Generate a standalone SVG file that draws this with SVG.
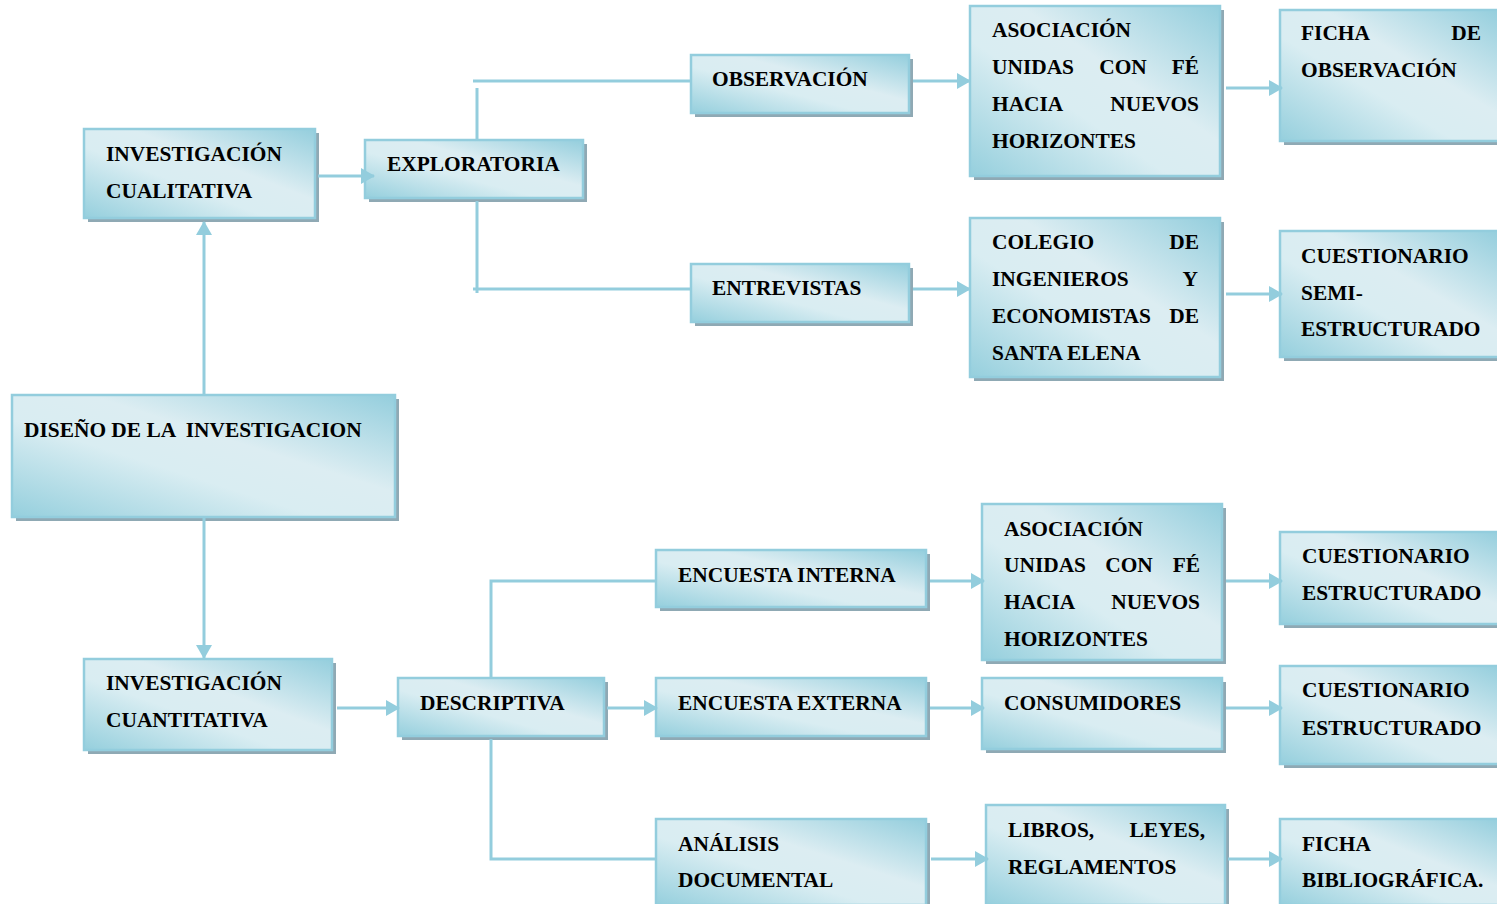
<svg xmlns="http://www.w3.org/2000/svg" width="1497" height="904" viewBox="0 0 1497 904">
<defs>
<linearGradient id="g" x1="0" y1="1" x2="1" y2="0">
<stop offset="0" stop-color="#95cfdd"/>
<stop offset="0.4" stop-color="#d9edf2"/>
<stop offset="0.6" stop-color="#dcedf2"/>
<stop offset="1" stop-color="#94cedd"/>
</linearGradient>
<marker id="ah" markerUnits="userSpaceOnUse" markerWidth="14" markerHeight="16" viewBox="0 0 14 16" refX="13" refY="8" orient="auto">
<path d="M0,0 L14,8 L0,16 z" fill="#93cddd"/>
</marker>
<style>
.sh{fill:#8fa9b4}
.bx{fill:url(#g);stroke:#93cddd;stroke-width:2.5}
.t{font-family:"Liberation Serif","Times New Roman",serif;font-weight:bold;font-size:21.4px;fill:#000}
.e{text-anchor:end}
.m{text-anchor:middle}
.c{stroke:#93cddd;stroke-width:3;fill:none}
.a{marker-end:url(#ah)}
</style>
</defs>
<rect width="1497" height="904" fill="#fff"/>

<g id="nodes">
<g id="diseno">
<rect class="sh" x="16" y="399" width="383" height="122"/>
<rect class="bx" x="12" y="395" width="383" height="122"/>
<text class="t" x="24" y="437" xml:space="preserve">DISEÑO DE LA  INVESTIGACION</text>
</g>
<g id="cualitativa">
<rect class="sh" x="88" y="133" width="231" height="89"/>
<rect class="bx" x="84" y="129" width="231" height="89"/>
<text class="t" x="106" y="161">INVESTIGACIÓN</text>
<text class="t" x="106" y="198">CUALITATIVA</text>
</g>
<g id="exploratoria">
<rect class="sh" x="369" y="144" width="218" height="58"/>
<rect class="bx" x="365" y="140" width="218" height="58"/>
<text class="t" x="387" y="171">EXPLORATORIA</text>
</g>
<g id="observacion">
<rect class="sh" x="695" y="59" width="218" height="58"/>
<rect class="bx" x="691" y="55" width="218" height="58"/>
<text class="t" x="712" y="86">OBSERVACIÓN</text>
</g>
<g id="entrevistas">
<rect class="sh" x="695" y="268" width="218" height="58"/>
<rect class="bx" x="691" y="264" width="218" height="58"/>
<text class="t" x="712" y="295">ENTREVISTAS</text>
</g>
<g id="asociacion1">
<rect class="sh" x="974" y="10" width="250" height="170"/>
<rect class="bx" x="970" y="6" width="250" height="170"/>
<text class="t" x="992" y="37">ASOCIACIÓN</text>
<text class="t" x="992" y="74">UNIDAS</text>
<text class="t m" x="1123" y="74">CON</text>
<text class="t e" x="1199" y="74">FÉ</text>
<text class="t" x="992" y="111">HACIA</text>
<text class="t e" x="1199" y="111">NUEVOS</text>
<text class="t" x="992" y="148">HORIZONTES</text>
</g>
<g id="fichaobs">
<rect class="sh" x="1284" y="14" width="220" height="131"/>
<rect class="bx" x="1280" y="10" width="220" height="131"/>
<text class="t" x="1301" y="40">FICHA</text>
<text class="t e" x="1481" y="40">DE</text>
<text class="t" x="1301" y="77">OBSERVACIÓN</text>
</g>
<g id="colegio">
<rect class="sh" x="974" y="222" width="250" height="159"/>
<rect class="bx" x="970" y="218" width="250" height="159"/>
<text class="t" x="992" y="249">COLEGIO</text>
<text class="t e" x="1199" y="249">DE</text>
<text class="t" x="992" y="286">INGENIEROS</text>
<text class="t e" x="1198" y="286">Y</text>
<text class="t" x="992" y="323">ECONOMISTAS</text>
<text class="t e" x="1199" y="323">DE</text>
<text class="t" x="992" y="360">SANTA ELENA</text>
</g>
<g id="cuestsemi">
<rect class="sh" x="1284" y="235" width="220" height="126"/>
<rect class="bx" x="1280" y="231" width="220" height="126"/>
<text class="t" x="1301" y="263">CUESTIONARIO</text>
<text class="t" x="1301" y="300">SEMI-</text>
<text class="t" x="1301" y="336">ESTRUCTURADO</text>
</g>
<g id="cuantitativa">
<rect class="sh" x="88" y="663" width="248" height="91"/>
<rect class="bx" x="84" y="659" width="248" height="91"/>
<text class="t" x="106" y="690">INVESTIGACIÓN</text>
<text class="t" x="106" y="727">CUANTITATIVA</text>
</g>
<g id="descriptiva">
<rect class="sh" x="402" y="682" width="206" height="58"/>
<rect class="bx" x="398" y="678" width="206" height="58"/>
<text class="t" x="420" y="710">DESCRIPTIVA</text>
</g>
<g id="encinterna">
<rect class="sh" x="660" y="554" width="270" height="57"/>
<rect class="bx" x="656" y="550" width="270" height="57"/>
<text class="t" x="678" y="582">ENCUESTA INTERNA</text>
</g>
<g id="encexterna">
<rect class="sh" x="660" y="682" width="270" height="58"/>
<rect class="bx" x="656" y="678" width="270" height="58"/>
<text class="t" x="678" y="710">ENCUESTA EXTERNA</text>
</g>
<g id="analisis">
<rect class="sh" x="660" y="823" width="270" height="86"/>
<rect class="bx" x="656" y="819" width="270" height="86"/>
<text class="t" x="678" y="851">ANÁLISIS</text>
<text class="t" x="678" y="887">DOCUMENTAL</text>
</g>
<g id="asociacion2">
<rect class="sh" x="986" y="508" width="240" height="156"/>
<rect class="bx" x="982" y="504" width="240" height="156"/>
<text class="t" x="1004" y="536">ASOCIACIÓN</text>
<text class="t" x="1004" y="572">UNIDAS</text>
<text class="t m" x="1129" y="572">CON</text>
<text class="t e" x="1200" y="572">FÉ</text>
<text class="t" x="1004" y="609">HACIA</text>
<text class="t e" x="1200" y="609">NUEVOS</text>
<text class="t" x="1004" y="646">HORIZONTES</text>
</g>
<g id="consumidores">
<rect class="sh" x="986" y="682" width="240" height="71"/>
<rect class="bx" x="982" y="678" width="240" height="71"/>
<text class="t" x="1004" y="710">CONSUMIDORES</text>
</g>
<g id="libros">
<rect class="sh" x="990" y="809" width="239" height="100"/>
<rect class="bx" x="986" y="805" width="239" height="100"/>
<text class="t" x="1008" y="837">LIBROS,</text>
<text class="t e" x="1205" y="837">LEYES,</text>
<text class="t" x="1008" y="874">REGLAMENTOS</text>
</g>
<g id="cuestestr1">
<rect class="sh" x="1284" y="536" width="220" height="92"/>
<rect class="bx" x="1280" y="532" width="220" height="92"/>
<text class="t" x="1302" y="563">CUESTIONARIO</text>
<text class="t" x="1302" y="600">ESTRUCTURADO</text>
</g>
<g id="cuestestr2">
<rect class="sh" x="1284" y="670" width="220" height="98"/>
<rect class="bx" x="1280" y="666" width="220" height="98"/>
<text class="t" x="1302" y="697">CUESTIONARIO</text>
<text class="t" x="1302" y="735">ESTRUCTURADO</text>
</g>
<g id="fichabib">
<rect class="sh" x="1284" y="823" width="220" height="86"/>
<rect class="bx" x="1280" y="819" width="220" height="86"/>
<text class="t" x="1302" y="851">FICHA</text>
<text class="t" x="1302" y="887">BIBLIOGRÁFICA.</text>
</g>
</g>

<g id="connectors">
<line class="c a" x1="204" y1="395" x2="204" y2="222"/>
<line class="c a" x1="204" y1="518" x2="204" y2="658"/>
<line class="c a" x1="318" y1="176" x2="374" y2="176"/>
<line class="c" x1="473" y1="81" x2="691" y2="81"/>
<line class="c" x1="477" y1="88" x2="477" y2="140"/>
<line class="c" x1="477" y1="201" x2="477" y2="293"/>
<line class="c" x1="473" y1="289" x2="691" y2="289"/>
<line class="c a" x1="913" y1="81" x2="970" y2="81"/>
<line class="c a" x1="913" y1="289" x2="970" y2="289"/>
<line class="c a" x1="1226" y1="88" x2="1282" y2="88"/>
<line class="c a" x1="1226" y1="294" x2="1282" y2="294"/>
<line class="c a" x1="337" y1="708" x2="399" y2="708"/>
<line class="c a" x1="607" y1="708" x2="657" y2="708"/>
<path class="c" d="M491,678 V581 H656"/>
<path class="c" d="M491,739 V859 H656"/>
<line class="c a" x1="930" y1="581" x2="984" y2="581"/>
<line class="c a" x1="930" y1="708" x2="984" y2="708"/>
<line class="c a" x1="931" y1="859" x2="988" y2="859"/>
<line class="c a" x1="1226" y1="581" x2="1282" y2="581"/>
<line class="c a" x1="1226" y1="708" x2="1282" y2="708"/>
<line class="c a" x1="1228" y1="859" x2="1282" y2="859"/>
</g>
</svg>
